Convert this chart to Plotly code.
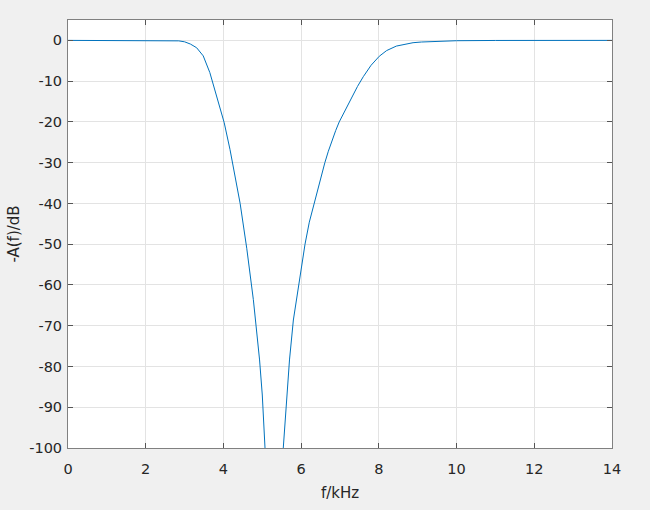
import plotly.graph_objects as go

# frequency (kHz) and attenuation (dB)
freq_khz = [0, 1, 2, 2.5, 2.7, 2.85, 3.0, 3.15, 3.31, 3.48, 3.65, 3.83, 4.02, 4.17, 4.3, 4.43, 4.6, 4.77, 4.93, 5.0, 5.07,
            5.3,
            5.54, 5.62, 5.70, 5.80, 5.94, 6.10, 6.21, 6.33, 6.47, 6.61, 6.70, 6.79, 6.89, 6.98, 7.07, 7.15, 7.30, 7.45, 7.60, 7.8, 8.01, 8.2, 8.45, 8.65, 8.88, 9.1, 9.4, 10, 11, 12, 13, 14]
gain_db = [0, 0, 0, -0.01, -0.04, -0.12, -0.35, -0.9, -1.8, -3.8, -7.9, -13.7, -20.2, -26.8, -33, -40, -51, -63.6, -78.4, -87, -100,
           -200,
           -100, -88, -78.4, -68.6, -60, -50, -44.6, -40, -34.6, -30, -27.2, -24.5, -22.1, -20, -18.3, -16.8, -14.0, -11.3, -8.9, -6.1, -3.9, -2.5, -1.4, -0.95, -0.57, -0.4, -0.25, -0.08, -0.02, 0, 0, 0]

x_ticks = [0, 2, 4, 6, 8, 10, 12, 14]
y_ticks = [0, -10, -20, -30, -40, -50, -60, -70, -80, -90, -100]

fig = go.Figure()
fig.add_trace(go.Scatter(x=freq_khz, y=gain_db, mode="lines",
                         line=dict(color="#0072BD", width=1), showlegend=False, hoverinfo="skip"))

font_family = "DejaVu Sans, Arial"
axis_common = dict(showline=True, linecolor="#808080", linewidth=1, mirror="allticks",
                   ticks="inside", ticklen=5, tickcolor="#555555", tickwidth=1,
                   showgrid=True, gridcolor="#e3e3e3", gridwidth=1, zeroline=False,
                   tickfont=dict(family=font_family, size=14.5, color="#262626"))

fig.update_xaxes(range=[0, 14], tickvals=x_ticks, ticktext=[str(v) for v in x_ticks],
                 ticklabelstandoff=8,
                 title=dict(text="f/kHz", font=dict(family=font_family, size=15, color="#262626"), standoff=11),
                 **axis_common)
fig.update_yaxes(range=[-100, 5], tickvals=y_ticks, ticktext=[str(v) for v in y_ticks],
                 ticklabelstandoff=2,
                 title=dict(text="-A(f)/dB", font=dict(family=font_family, size=15, color="#262626"), standoff=5),
                 **axis_common)

fig.update_layout(width=650, height=510, margin=dict(l=68, r=38, t=20, b=62),
                  paper_bgcolor="#f0f0f0", plot_bgcolor="#ffffff")

fig.write_html("out.html", config={"displayModeBar": False},
               post_script="document.body.style.margin='0';document.body.style.background='#f0f0f0';document.body.style.overflow='hidden';")
